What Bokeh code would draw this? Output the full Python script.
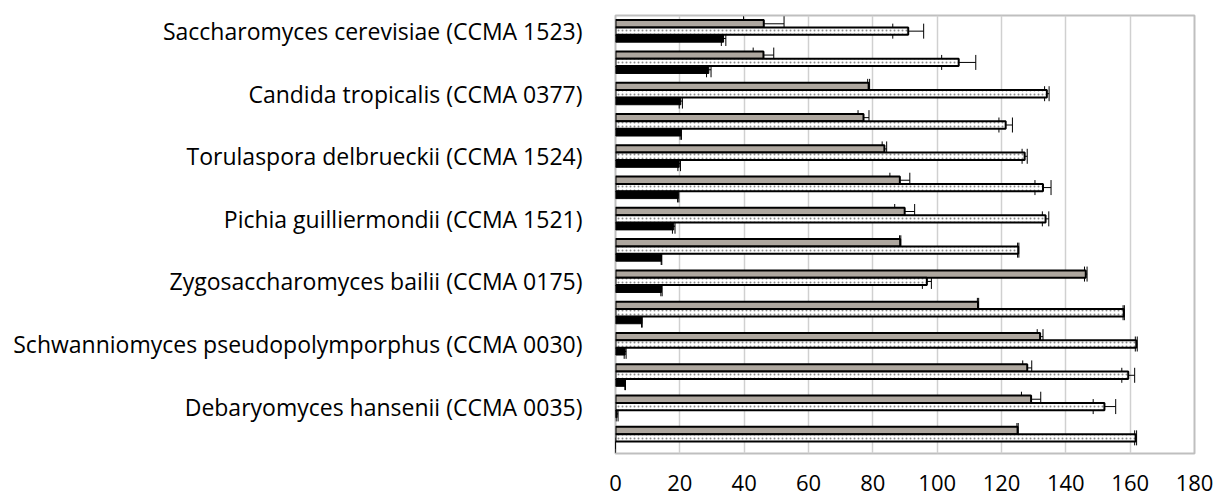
import numpy as np
from bokeh.plotting import figure
from bokeh.models import ColumnDataSource, Range1d, FixedTicker, Whisker, TeeHead
from bokeh.embed import file_html
from bokeh.resources import INLINE

labels = ["Saccharomyces cerevisiae (CCMA 1523)", "",
          "Candida tropicalis (CCMA 0377)", "",
          "Torulaspora delbrueckii (CCMA 1524)", "",
          "Pichia guilliermondii (CCMA 1521)", "",
          "Zygosaccharomyces bailii (CCMA 0175)", "",
          "Schwanniomyces pseudopolymporphus (CCMA 0030)", "",
          "Debaryomyces hansenii (CCMA 0035)", ""]

gray = [46.1, 46.0, 78.7, 77.1, 83.6, 88.4, 89.9, 88.5, 146.2, 112.7, 132.0, 128.0, 129.2, 125.0]
gray_err = [6.3, 3.2, 0.3, 1.7, 0.7, 3.1, 3.1, 0.2, 0.4, 0.2, 0.9, 1.4, 3.0, 0.2]
dotted = [91.0, 106.7, 134.1, 121.3, 127.2, 132.9, 133.7, 125.2, 96.8, 158.0, 161.9, 159.4, 152.0, 161.7]
dotted_err = [4.8, 5.3, 0.7, 2.1, 0.8, 2.5, 1.0, 0.2, 1.4, 0.2, 0.3, 2.0, 3.5, 0.3]
black = [33.6, 29.0, 20.3, 20.3, 19.8, 19.5, 18.1, 14.3, 14.3, 8.2, 3.0, 3.0, 0.5, 0.0]
black_err = [0.7, 0.7, 0.5, 0.2, 0.4, 0.2, 0.4, 0.1, 0.2, 0.1, 0.3, 0.1, 0.3, 0.0]

x_ticks = [0, 20, 40, 60, 80, 100, 120, 140, 160, 180]

n = len(labels)
idx = np.arange(n)
OFF = 0.235
H = 0.235

src = ColumnDataSource(dict(
    yg=idx - OFF, yd=idx + 0.0, yb=idx + OFF,
    gray=gray, dotted=dotted, black=black,
    g_lo=np.array(gray) - np.array(gray_err), g_hi=np.array(gray) + np.array(gray_err),
    d_lo=np.array(dotted) - np.array(dotted_err), d_hi=np.array(dotted) + np.array(dotted_err),
    b_lo=np.array(black) - np.array(black_err), b_hi=np.array(black) + np.array(black_err),
))

p = figure(width=1216, height=500, output_backend="svg", toolbar_location=None,
           x_range=Range1d(0, 180), y_range=Range1d(n - 0.5, -0.5),
           min_border_left=615, min_border_right=22, min_border_top=15, min_border_bottom=47)

p.background_fill_color = "white"
p.border_fill_color = "white"
p.outline_line_color = "#bfbfbf"
p.outline_line_width = 2

p.xgrid.ticker = FixedTicker(ticks=x_ticks)
p.xgrid.grid_line_color = "#d0d0d0"
p.xgrid.grid_line_width = 1.5
p.ygrid.grid_line_color = None

p.xaxis.ticker = FixedTicker(ticks=x_ticks)
p.xaxis.axis_line_color = None
p.xaxis.major_tick_line_color = None
p.xaxis.minor_tick_line_color = None
p.xaxis.major_label_standoff = 15
p.xaxis.major_label_text_font = "Open Sans"
p.xaxis.major_label_text_font_size = "22px"
p.xaxis.major_label_text_color = "black"

p.yaxis.ticker = FixedTicker(ticks=list(range(0, n, 2)))
p.yaxis.major_label_overrides = {int(i): labels[i] for i in range(0, n, 2)}
p.yaxis.axis_line_color = None
p.yaxis.major_tick_line_color = None
p.yaxis.minor_tick_line_color = None
p.yaxis.major_label_standoff = 27
p.yaxis.major_label_text_font = "Open Sans"
p.yaxis.major_label_text_font_size = "23px"
p.yaxis.major_label_text_color = "black"

p.hbar(y="yg", left=0, right="gray", height=H, source=src,
       fill_color="#aea79f", line_color="black", line_width=2)
p.hbar(y="yd", left=0, right="dotted", height=H, source=src,
       fill_color="white", line_color="black", line_width=2,
       hatch_pattern="dot", hatch_color="#8a8a8a", hatch_scale=4, hatch_weight=1)
p.hbar(y="yb", left=0, right="black", height=H, source=src,
       fill_color="black", line_color="black", line_width=1)

for base, lo, hi in [("yg", "g_lo", "g_hi"), ("yd", "d_lo", "d_hi"), ("yb", "b_lo", "b_hi")]:
    w = Whisker(source=src, base=base, lower=lo, upper=hi, dimension="width",
                line_color="black", line_width=1,
                lower_head=TeeHead(size=15, line_color="black", line_width=1),
                upper_head=TeeHead(size=15, line_color="black", line_width=1))
    p.add_layout(w)

open("out.html", "w").write(file_html(p, INLINE))
